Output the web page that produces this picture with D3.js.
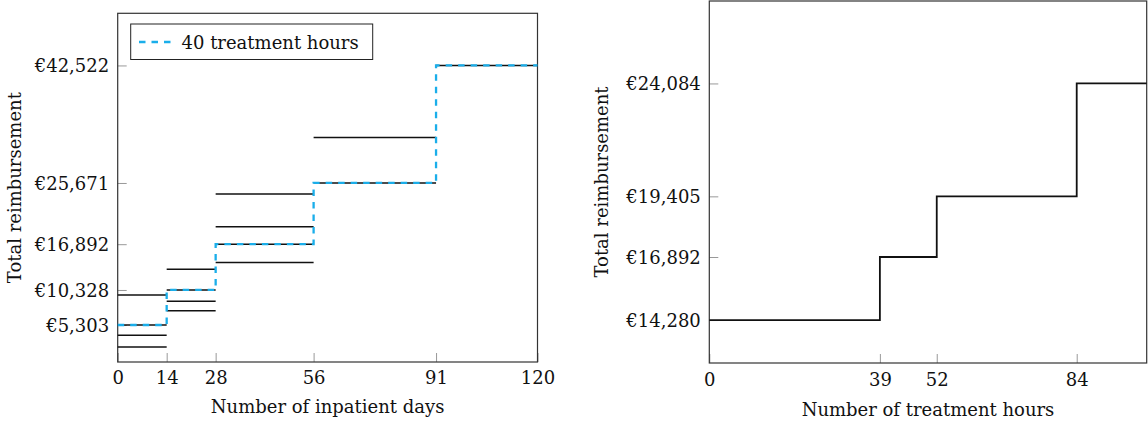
<!DOCTYPE html>
<html lang="en">
<head>
    <meta charset="UTF-8">
    <title>Reimbursement step functions</title>
    <script src="https://d3js.org/d3.v7.min.js"></script>
    <style>
        body { margin: 0; background: #fff; }
        svg text { font-family: "DejaVu Serif", "Liberation Serif", serif; font-size: 18px; fill: #111; }
        .tick line { stroke: #999; stroke-width: 1; }
        .frame { fill: none; stroke: #333; stroke-width: 1.2; }
    </style>
</head>
<body>
    <svg id="chart" width="1148" height="421"></svg>

    <script>
        // Left panel: reimbursement by inpatient days
        const dayTicks = [0, 14, 28, 56, 91, 120];
        const dayEuroTicks = [5303, 10328, 16892, 25671, 42522];
        // 40 treatment hours (dashed step)
        const days40 = [0, 14, 28, 56, 91, 120];
        const euro40 = [5303, 10328, 16892, 25671, 42522, 42522];
        // horizontal levels for each day band (other treatment hours)
        const bandStart = [0, 0, 0, 0, 14, 14, 14, 14, 28, 28, 28, 28, 56, 56, 91];
        const bandEnd   = [14, 14, 14, 14, 28, 28, 28, 28, 56, 56, 56, 56, 91, 91, 120];
        const bandEuro  = [9600, 5303, 3830, 2150, 13300, 10328, 8700, 7360,
                           24084, 19405, 16892, 14280, 32200, 25671, 42522];

        // Right panel: reimbursement by treatment hours
        const hourTicks = [0, 39, 52, 84];
        const hourEuroTicks = [14280, 16892, 19405, 24084];
        const hours = [0, 39, 52, 84, 100];
        const hourEuro = [14280, 16892, 19405, 24084, 24084];

        const svg = d3.select("#chart");
        const euro = d => "€" + d3.format(",")(d);

        function drawFrame(g, x, y, xTicks, yTicks, xLabel, yLabelX, xLabelY, xTickPad) {
            const [x0, x1] = x.range();
            const [y0, y1] = y.range();

            g.append("g")
                .attr("transform", `translate(0,${y0})`)
                .call(d3.axisBottom(x).tickValues(xTicks).tickSizeInner(-9).tickSizeOuter(0).tickPadding(xTickPad))
                .call(a => a.select(".domain").remove())
                .call(a => a.selectAll("text").attr("font-size", null).attr("font-family", null));

            g.append("g")
                .attr("transform", `translate(${x0},0)`)
                .call(d3.axisLeft(y).tickValues(yTicks).tickFormat(euro).tickSizeInner(-9).tickSizeOuter(0).tickPadding(8.5))
                .call(a => a.select(".domain").remove())
                .call(a => a.selectAll("text").attr("font-size", null).attr("font-family", null).attr("dy", "0.35em"));

            g.append("rect")
                .attr("class", "frame")
                .attr("x", x0).attr("y", y1)
                .attr("width", x1 - x0).attr("height", y0 - y1);

            g.append("text")
                .attr("x", (x0 + x1) / 2)
                .attr("y", xLabelY)
                .attr("text-anchor", "middle")
                .text(xLabel);

            g.append("text")
                .attr("transform", `translate(${yLabelX},${(y0 + y1) / 2}) rotate(-90)`)
                .attr("text-anchor", "middle")
                .text("Total reimbursement");
        }

        // ---- left panel ----
        const xL = d3.scaleLinear().domain([0, 120]).range([117.7, 537.5]);
        const yL = d3.scaleLinear().domain([0, 50000]).range([362, 13.3]);
        const left = svg.append("g");

        drawFrame(left, xL, yL, dayTicks, dayEuroTicks, "Number of inpatient days", 20.5, 413, 9);

        left.selectAll(".band")
            .data(bandEuro)
            .enter().append("line")
            .attr("class", "band")
            .attr("x1", (d, i) => xL(bandStart[i]))
            .attr("x2", (d, i) => xL(bandEnd[i]))
            .attr("y1", d => yL(d))
            .attr("y2", d => yL(d))
            .attr("stroke", "#111")
            .attr("stroke-width", 1.5);

        const step = d3.line().curve(d3.curveStepAfter);

        left.append("path")
            .attr("d", step(days40.map((d, i) => [xL(d), yL(euro40[i])])))
            .attr("fill", "none")
            .attr("stroke", "#1aaeea")
            .attr("stroke-width", 2.3)
            .attr("stroke-dasharray", "6.5,6");

        // legend
        const leg = left.append("g");
        leg.append("rect")
            .attr("x", 130.7).attr("y", 24)
            .attr("width", 242).attr("height", 35.5)
            .attr("fill", "#fff").attr("stroke", "#222").attr("stroke-width", 1);
        leg.append("line")
            .attr("x1", 139).attr("x2", 172)
            .attr("y1", 42).attr("y2", 42)
            .attr("stroke", "#1aaeea").attr("stroke-width", 2.3)
            .attr("stroke-dasharray", "6.5,6");
        leg.append("text")
            .attr("x", 181.5).attr("y", 48.5)
            .text("40 treatment hours");

        // ---- right panel ----
        const xR = d3.scaleLinear().domain([0, 100]).range([709.3, 1146.7]);
        const yR = d3.scaleLinear().domain([12500, 27500]).range([363, 1]);
        const right = svg.append("g");

        drawFrame(right, xR, yR, hourTicks, hourEuroTicks, "Number of treatment hours", 607.5, 416, 10.5);

        right.append("path")
            .attr("d", step(hours.map((d, i) => [xR(d), yR(hourEuro[i])])))
            .attr("fill", "none")
            .attr("stroke", "#111")
            .attr("stroke-width", 1.8);
    </script>
</body>
</html>
